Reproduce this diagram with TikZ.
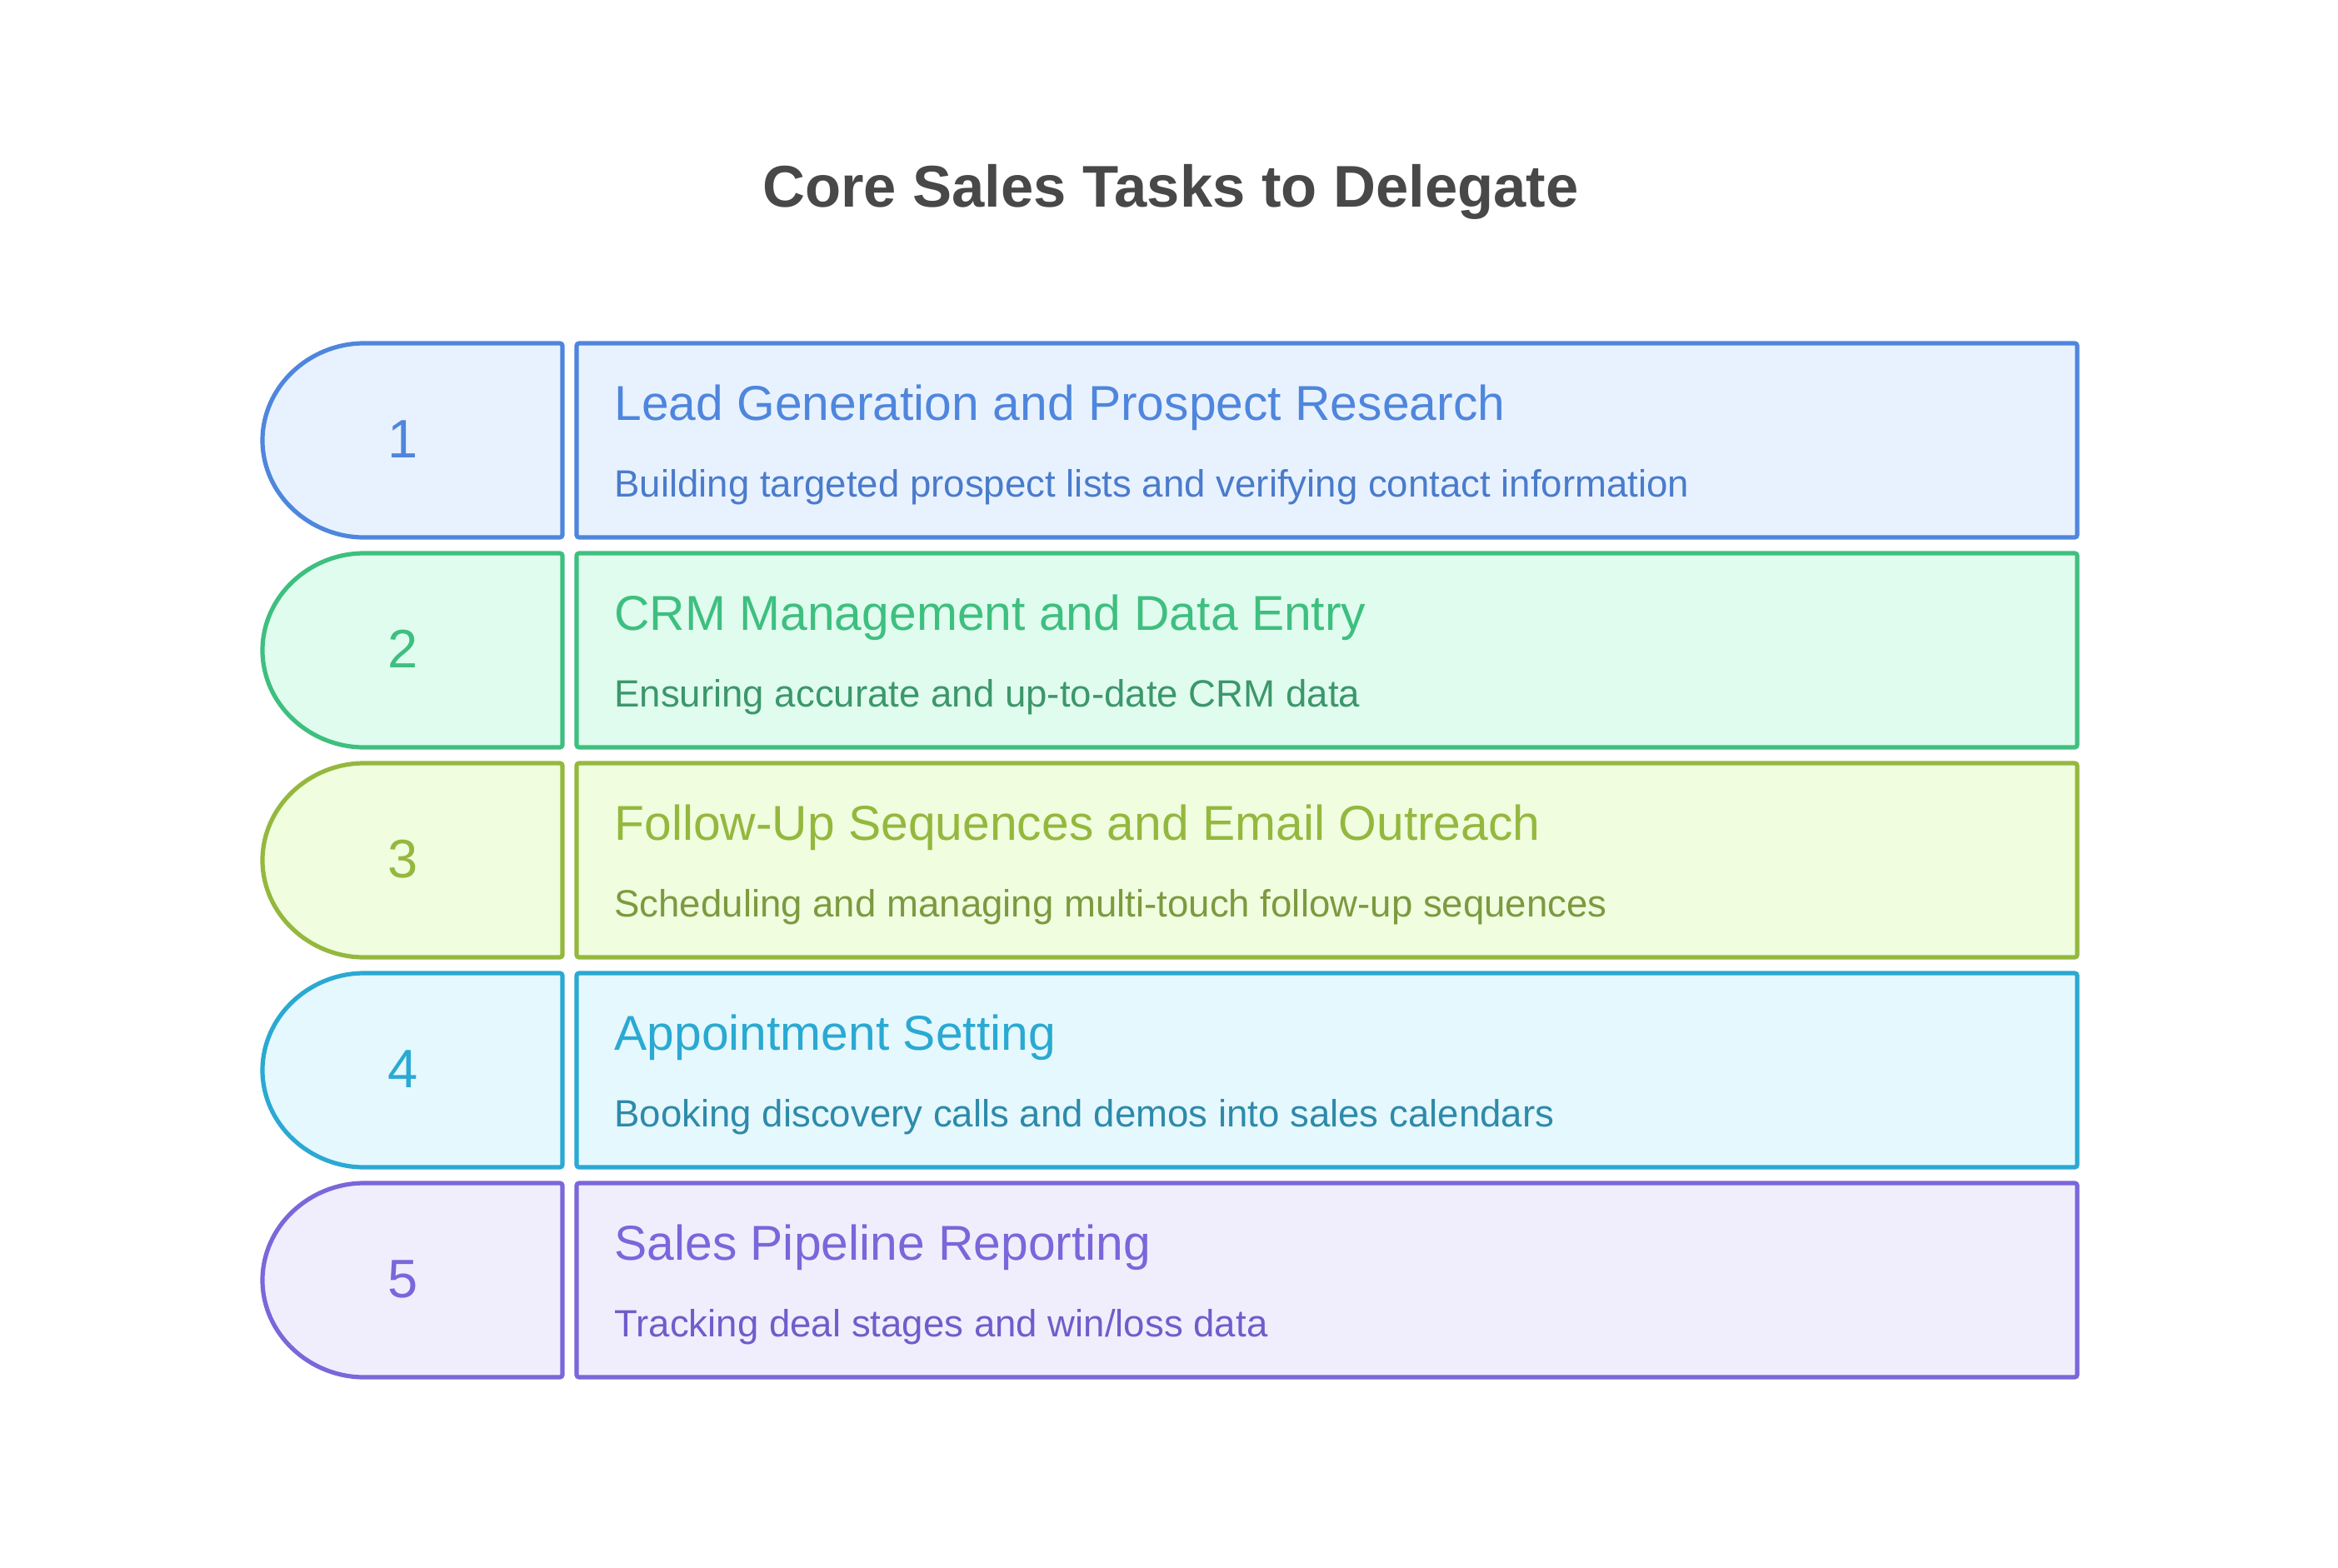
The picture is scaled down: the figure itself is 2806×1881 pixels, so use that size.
\documentclass[tikz,border=0pt]{standalone}
\usepackage{fontspec}
\setmainfont{Liberation Sans}
\definecolor{titlegray}{HTML}{484848}
\definecolor{c1s}{HTML}{4F86DD}\definecolor{c1f}{HTML}{E8F2FE}\definecolor{c1t}{HTML}{4A7BCC}
\definecolor{c2s}{HTML}{3EBF80}\definecolor{c2f}{HTML}{E0FCEE}\definecolor{c2t}{HTML}{3C976B}
\definecolor{c3s}{HTML}{94B83E}\definecolor{c3f}{HTML}{F0FDDF}\definecolor{c3t}{HTML}{7C9A3F}
\definecolor{c4s}{HTML}{2AA9D2}\definecolor{c4f}{HTML}{E5F8FE}\definecolor{c4t}{HTML}{2E8AAA}
\definecolor{c5s}{HTML}{7B66DA}\definecolor{c5f}{HTML}{F0EEFD}\definecolor{c5t}{HTML}{6F5DCB}
\newcommand\taskrow[5]{%
  \draw[shapeline, draw=#3s, fill=#3f] (675,#2) -- (440,#2)
    arc[start angle=-90, end angle=-270, x radius=125, y radius=116.5]
    -- (675,#2+233) -- cycle;
  \draw[shapeline, draw=#3s, fill=#3f] (692,#2) rectangle (2493,#2+233);
  \node[numtxt, text=#3s] (num#1) at (484,#2+137) {#1};
  \node[headtxt, text=#3s] (head#1) at (737,#2+92) {#4};
  \node[subtxt, text=#3t] (sub#1) at (737,#2+184) {#5};
}
\begin{document}
\begin{tikzpicture}[x=0.5pt,y=-0.5pt,
  shapeline/.style={line width=2.6pt, rounded corners=1.5pt},
  headtxt/.style={anchor=base west, inner sep=0pt, font=\fontsize{29.4}{32}\selectfont},
  subtxt/.style={anchor=base west, inner sep=0pt, font=\fontsize{22.8}{26}\selectfont},
  numtxt/.style={anchor=base, inner sep=0pt, font=\fontsize{32.5}{36}\selectfont}]
\useasboundingbox[fill=white] (0,0) rectangle (2806,1881);
\node[anchor=base, inner sep=0pt, text=titlegray, font=\bfseries\fontsize{35.3}{40}\selectfont] (title) at (1405,248) {Core Sales Tasks to Delegate};
\taskrow{1}{412}{c1}{Lead Generation and Prospect Research}{Building targeted prospect lists and verifying contact information}
\taskrow{2}{664}{c2}{CRM Management and Data Entry}{Ensuring accurate and up-to-date CRM data}
\taskrow{3}{916}{c3}{Follow-Up Sequences and Email Outreach}{Scheduling and managing multi-touch follow-up sequences}
\taskrow{4}{1168}{c4}{Appointment Setting}{Booking discovery calls and demos into sales calendars}
\taskrow{5}{1420}{c5}{Sales Pipeline Reporting}{Tracking deal stages and win/loss data}
\end{tikzpicture}
\end{document}
